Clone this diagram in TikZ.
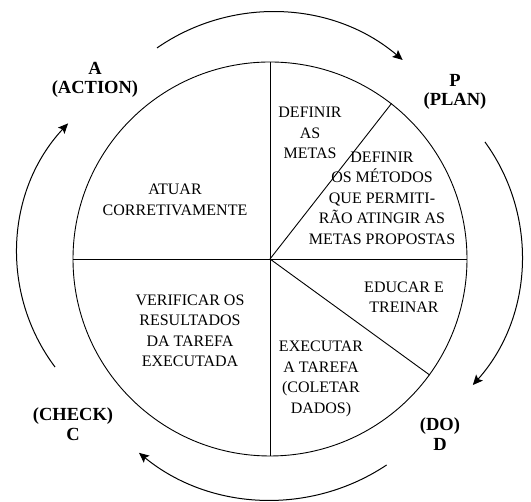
\documentclass[tikz,border=0pt]{standalone}
\usepackage{fontspec}
\setmainfont{Liberation Serif}
\usetikzlibrary{arrows.meta}

\begin{document}
\begin{tikzpicture}[
    x=1pt, y=1pt,
    etapa/.style={
        align=center,
        inner sep=0pt,
        font=\fontsize{16}{20.5}\selectfont
    },
    rotulo/.style={
        align=center,
        inner sep=0pt,
        font=\fontsize{18.5}{19.5}\selectfont\bfseries
    },
    divisa/.style={line width=0.9pt},
    ciclo/.style={-{Stealth[length=10pt,width=9pt,inset=2pt]}, line width=1pt}
]

\useasboundingbox (0,0) rectangle (531,502);

% roda PDCA
\node[circle, draw, divisa, minimum size=394pt, inner sep=0pt] (roda) at (270,243) {};

\draw[divisa] (roda.north) -- (roda.south);
\draw[divisa] (roda.west) -- (roda.east);
\draw[divisa] (roda.center) -- (roda.52.4);
\draw[divisa] (roda.center) -- (roda.-36);

% textos das etapas
\node[etapa] (atuar) at (175,302)
{ATUAR\\ CORRETIVAMENTE};

\node[etapa] (metas) at (310,369)
{DEFINIR\\ AS\\ METAS};

\node[etapa] (metodos) at (382,304)
{DEFINIR\\ OS MÉTODOS\\ QUE PERMITI-\\ RÃO ATINGIR AS\\ METAS PROPOSTAS};

\node[etapa] (educar) at (404,205)
{EDUCAR E\\ TREINAR};

\node[etapa] (verificar) at (190,171)
{VERIFICAR OS\\ RESULTADOS\\ DA TAREFA\\ EXECUTADA};

\node[etapa] (executar) at (321,123)
{EXECUTAR\\ A TAREFA\\ (COLETAR\\ DADOS)};

% rotulos do ciclo
\node[rotulo] (A) at (95,422) {A\\ (ACTION)};
\node[rotulo] (P) at (455,410) {P\\ (PLAN)};
\node[rotulo] (C) at (73,78) {(CHECK)\\ C};
\node[rotulo] (D) at (440,68) {(DO)\\ D};

% setas do ciclo
\coordinate (centroAP) at (272,288);
\coordinate (centroPD) at (328,246);
\coordinate (centroDC) at (271,210.5);
\coordinate (centroCA) at (207,249);

\draw[ciclo] ([shift={(124.7:202)}]centroAP) arc[start angle=124.7, end angle=49.7, radius=202];
\draw[ciclo] ([shift={(36:194)}]centroPD) arc[start angle=36, end angle=-41.7, radius=194];
\draw[ciclo] ([shift={(-56.3:208.5)}]centroDC) arc[start angle=-56.3, end angle=-129.3, radius=208.5];
\draw[ciclo] ([shift={(216.9:190)}]centroCA) arc[start angle=216.9, end angle=137, radius=190];

\end{tikzpicture}
\end{document}
